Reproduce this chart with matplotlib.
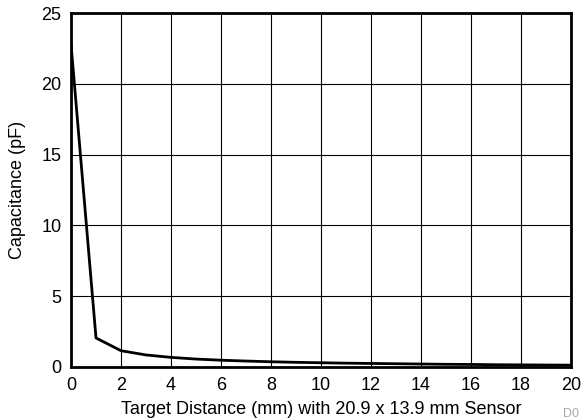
import matplotlib.pyplot as plt

plt.rcParams['font.family'] = ['Liberation Sans', 'DejaVu Sans']

distance = [0, 1, 2, 3, 4, 5, 6, 7, 8, 9, 10, 11, 12, 13, 14, 15, 16, 17, 18, 19, 20]
capacitance = [22.8, 2.05, 1.15, 0.85, 0.68, 0.56, 0.48, 0.42, 0.37, 0.33, 0.30,
               0.27, 0.25, 0.23, 0.21, 0.19, 0.18, 0.16, 0.15, 0.14, 0.13]

fig = plt.figure(figsize=(5.83, 4.2), dpi=100)
ax = fig.add_axes([0.1218, 0.1262, 0.8576, 0.8428])

ax.plot(distance, capacitance, color='black', lw=2, zorder=3)

ax.set_xlim(0, 20)
ax.set_ylim(0, 25)
ax.set_xticks(range(0, 21, 2))
ax.set_yticks(range(0, 26, 5))
ax.grid(True, color='black', lw=0.8)
ax.tick_params(length=0, labelsize=13, pad=7)
for s in ax.spines.values():
    s.set_linewidth(2)
    s.set_zorder(4)

ax.set_xlabel("Target Distance (mm) with 20.9 x 13.9 mm Sensor", fontsize=13, labelpad=5)
ax.set_ylabel("Capacitance (pF)", fontsize=13, labelpad=11)
fig.text(0.966, 0.0, "D0", fontsize=9, color='#aaaaaa', ha='left', va='bottom')

fig.savefig("out.png", dpi=100)
plt.close()
